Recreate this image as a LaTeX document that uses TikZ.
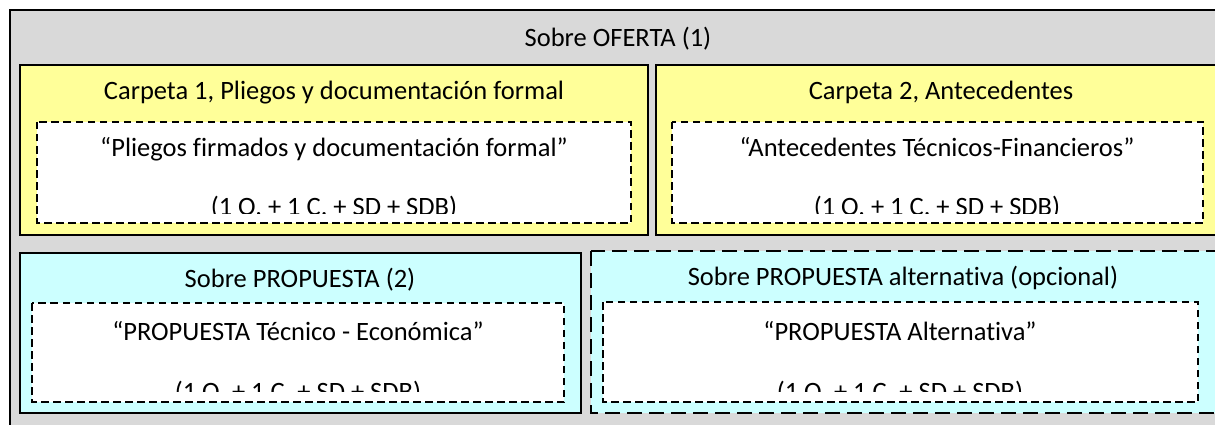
\documentclass[tikz,border=0pt]{standalone}
\usepackage{fontspec}
\setmainfont{Carlito}[Ligatures={NoCommon}]
\definecolor{bggray}{HTML}{D9D9D9}
\definecolor{foldyellow}{HTML}{FFFF99}
\definecolor{envcyan}{HTML}{CCFFFF}
\tikzset{
  outerbox/.style={draw=black, line width=2pt, fill=bggray},
  folderbox/.style={draw=black, line width=2pt, fill=foldyellow},
  envbox/.style={draw=black, line width=2pt, fill=envcyan},
  optbox/.style={draw=black, line width=2.2pt, fill=envcyan, dash pattern=on 15pt off 7pt},
  docbox/.style={draw=black, line width=2pt, fill=white, dash pattern=on 7.5pt off 4.5pt},
  lbl/.style={inner sep=0pt, anchor=base, font=\fontsize{26.5}{30}\selectfont}
}
\begin{document}
\begin{tikzpicture}[x=1pt, y=-1pt]
\useasboundingbox (0,0) rectangle (1215,425);
\clip (0,0) rectangle (1215,425);
% outer envelope
\draw[outerbox] (10,10) rectangle (1227,440);
\node[lbl] (oferta) at (618,46.5) {Sobre OFERTA (1)};
% folder 1
\draw[folderbox] (20,65) rectangle (648,235);
\node[lbl] (c1title) at (334,100) {Carpeta 1, Pliegos y documentación formal};
\draw[docbox] (37,122) rectangle (631,223);
\node[lbl] (c1doc) at (334,157) {“Pliegos firmados y documentación formal”};
\begin{scope}
\clip (37,122) rectangle (631,213);
\node[lbl] (c1cnt) at (334,215.5) {(1 O. + 1 C. + SD + SDB)};
\end{scope}
% folder 2
\draw[folderbox] (656,65) rectangle (1226,235);
\node[lbl] (c2title) at (941,100) {Carpeta 2, Antecedentes};
\draw[docbox] (672,122) rectangle (1203,223);
\node[lbl] (c2doc) at (937,157) {“Antecedentes Técnicos-Financieros”};
\begin{scope}
\clip (672,122) rectangle (1203,213);
\node[lbl] (c2cnt) at (937,215.5) {(1 O. + 1 C. + SD + SDB)};
\end{scope}
% propuesta envelope
\draw[envbox] (20,253) rectangle (581,413);
\node[lbl] (p1title) at (300,287) {Sobre PROPUESTA (2)};
\draw[docbox] (32,303) rectangle (564,402);
\node[lbl] (p1doc) at (298,340) {“PROPUESTA Técnico - Económica”};
\begin{scope}
\clip (32,303) rectangle (564,391);
\node[lbl] (p1cnt) at (298,400) {(1 O. + 1 C. + SD + SDB)};
\end{scope}
% alternative envelope
\draw[optbox] (591,251) rectangle (1228,413);
\node[lbl] (p2title) at (903,285) {Sobre PROPUESTA alternativa (opcional)};
\draw[docbox] (603,302) rectangle (1198,402);
\node[lbl] (p2doc) at (900,340) {“PROPUESTA Alternativa”};
\begin{scope}
\clip (603,302) rectangle (1198,391);
\node[lbl] (p2cnt) at (900,400) {(1 O. + 1 C. + SD + SDB)};
\end{scope}
\end{tikzpicture}
\end{document}
